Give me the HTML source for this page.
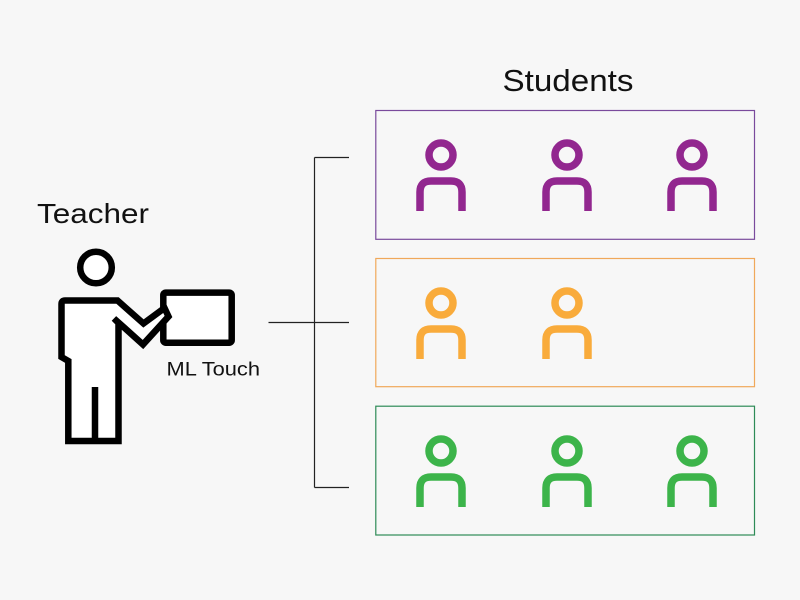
<!DOCTYPE html>
<html>
<head>
<meta charset="utf-8">
<style>
  html, body { margin: 0; padding: 0; background: #f7f7f7; }
  svg { display: block; }
  text { font-family: "Liberation Sans", Arial, sans-serif; fill: #111; }
</style>
</head>
<body>
<svg width="800" height="600" viewBox="0 0 800 600" xmlns="http://www.w3.org/2000/svg">
  <rect x="0" y="0" width="800" height="600" fill="#f7f7f7"/>

  <!-- Labels -->
  <text x="37" y="223" font-size="28" textLength="112" lengthAdjust="spacingAndGlyphs">Teacher</text>
  <text x="502.5" y="91" font-size="31" textLength="131" lengthAdjust="spacingAndGlyphs">Students</text>
  <text x="166.5" y="375.5" font-size="19" textLength="93.5" lengthAdjust="spacingAndGlyphs">ML Touch</text>

  <!-- Teacher figure -->
  <circle cx="96" cy="267.5" r="15.8" fill="#fff" stroke="#000" stroke-width="6.5"/>
  <rect x="163.3" y="292.6" width="68.4" height="50.1" rx="2.5" fill="#fff" stroke="#000" stroke-width="6.5"/>
  <path d="M 65 300.5 L 117.5 300.5 L 143.5 323.5 L 164.5 308 L 168.5 316.5 L 143 344.5 L 114 318.5 L 118.5 323 L 118.5 441 L 68.3 441 L 68.3 361 L 61.5 357 L 61.5 304 Q 61.5 300.5 65 300.5 Z"
        fill="#fff" stroke="#000" stroke-width="6.5" stroke-linejoin="miter"/>
  <line x1="95" y1="387" x2="95" y2="441" stroke="#000" stroke-width="6.5"/>

  <!-- Connectors -->
  <g stroke="#222" stroke-width="1.2" fill="none">
    <line x1="314.5" y1="157.5" x2="314.5" y2="487.5"/>
    <line x1="314.5" y1="157.5" x2="349" y2="157.5"/>
    <line x1="314.5" y1="487.5" x2="349" y2="487.5"/>
    <line x1="268.5" y1="322.5" x2="349" y2="322.5"/>
  </g>

  <!-- Boxes -->
  <rect x="375.8" y="110.5" width="378.7" height="128.8" fill="none" stroke="#7a4a9c" stroke-width="1.2"/>
  <rect x="375.8" y="258.5" width="378.7" height="128.2" fill="none" stroke="#f0a85a" stroke-width="1.2"/>
  <rect x="375.8" y="406.2" width="378.7" height="128.8" fill="none" stroke="#2e8b57" stroke-width="1.2"/>

  <g fill="none" stroke-width="7.5" stroke-linecap="butt">
    <!-- Row 1 purple -->
    <g stroke="#92278f">
      <circle cx="441" cy="155" r="12"/>
      <path d="M 420 211 V 192 Q 420 181 431 181 H 451 Q 462 181 462 192 V 211"/>
      <circle cx="567" cy="155" r="12"/>
      <path d="M 546 211 V 192 Q 546 181 557 181 H 577 Q 588 181 588 192 V 211"/>
      <circle cx="692" cy="155" r="12"/>
      <path d="M 671 211 V 192 Q 671 181 682 181 H 702 Q 713 181 713 192 V 211"/>
    </g>
    <!-- Row 2 orange -->
    <g stroke="#f9ab3b">
      <circle cx="441" cy="303" r="12"/>
      <path d="M 420 359 V 340 Q 420 329 431 329 H 451 Q 462 329 462 340 V 359"/>
      <circle cx="567" cy="303" r="12"/>
      <path d="M 546 359 V 340 Q 546 329 557 329 H 577 Q 588 329 588 340 V 359"/>
    </g>
    <!-- Row 3 green -->
    <g stroke="#3cb44a">
      <circle cx="441" cy="451" r="12"/>
      <path d="M 420 507 V 488 Q 420 477 431 477 H 451 Q 462 477 462 488 V 507"/>
      <circle cx="567" cy="451" r="12"/>
      <path d="M 546 507 V 488 Q 546 477 557 477 H 577 Q 588 477 588 488 V 507"/>
      <circle cx="692" cy="451" r="12"/>
      <path d="M 671 507 V 488 Q 671 477 682 477 H 702 Q 713 477 713 488 V 507"/>
    </g>
  </g>
</svg>
</body>
</html>
